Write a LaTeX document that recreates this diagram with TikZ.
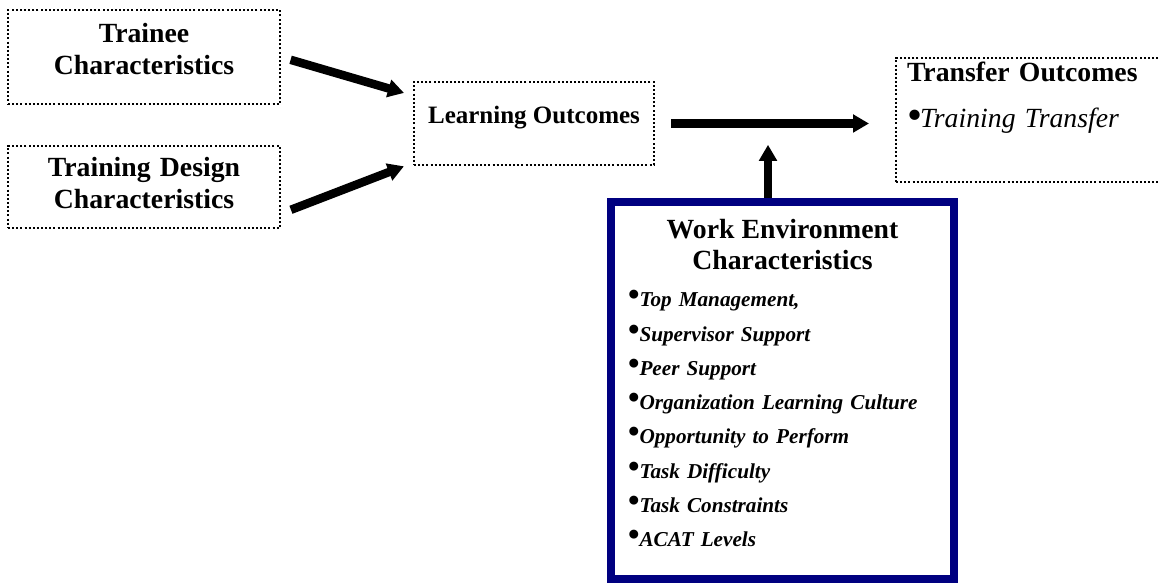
\documentclass[tikz,border=0pt]{standalone}
\usepackage{fontspec}
\usepackage{graphicx}
\setmainfont{Liberation Serif}
\usetikzlibrary{arrows.meta}

\definecolor{wenavy}{RGB}{0,0,128}
\newcommand{\headfont}{\fontsize{20.8pt}{23.6pt}\selectfont\bfseries\upshape}
\newcommand{\itemfont}{\fontsize{15.9pt}{25.7pt}\selectfont\bfseries\itshape}
\newcommand{\dotmark}[1]{\raisebox{#1}{\scalebox{1.55}{\upshape\textbullet}}}

\begin{document}
\begin{tikzpicture}[x=0.75pt, y=-0.75pt,
  dotbox/.style={draw, line width=1.5pt, dash pattern=on 1.5pt off 1.6pt, inner sep=0pt},
  bigarrow/.style={line width=6.4pt, -{Triangle[length=12pt, width=13pt]}}]
\useasboundingbox (0,0) rectangle (1159,584);
\node[dotbox, minimum width=204pt, minimum height=70.5pt, text width=187.5pt, align=center, font=\headfont, text height=13.5pt, text depth=34.5pt] (trainee) at (144,57) {Trainee\\Characteristics\par};
\node[dotbox, minimum width=204pt, minimum height=61.5pt, text width=187.5pt, align=center, font=\headfont, text height=13.5pt, text depth=28.5pt] (design) at (144,187) {Training Design\\Characteristics\par};
\node[dotbox, minimum width=180pt, minimum height=62.25pt, font=\fontsize{18.75pt}{22pt}\selectfont\bfseries, text height=13.5pt, text depth=12.75pt] (learning) at (534,123.5) {Learning Outcomes};
\node[dotbox, minimum width=213pt, minimum height=93pt, text width=196.5pt, align=left, font=\fontsize{20.8pt}{34.5pt}\selectfont, text height=13.5pt, text depth=70.5pt] (transfer) at (1038,120) {{\bfseries Transfer Outcomes}\\\dotmark{-1.5pt}\kern-1.5pt{\itshape Training Transfer}\par};
\node[draw=wenavy, line width=6pt, inner sep=0pt, minimum width=257.25pt, minimum height=282.75pt, text width=231.75pt, align=left, font=\itemfont, text height=13.5pt, text depth=240.75pt] (workenv) at (782.5,390.5) {\makebox[\hsize]{\headfont Work Environment}\\[-2.5pt]
\makebox[\hsize]{\headfont Characteristics}\\[2pt]
\dotmark{0.75pt}Top Management,\\
\dotmark{0.75pt}Supervisor Support\\
\dotmark{0.75pt}Peer Support\\
\dotmark{0.75pt}Organization Learning Culture\\
\dotmark{0.75pt}Opportunity to Perform\\
\dotmark{0.75pt}Task Difficulty\\
\dotmark{0.75pt}Task Constraints\\
\dotmark{0.75pt}ACAT Levels\par};
\coordinate (meet) at (768,123.5);
\draw[bigarrow, shorten <=7.5pt, shorten >=7pt] (trainee.east) -- (learning.167);
\draw[bigarrow, shorten <=8pt, shorten >=7.3pt] (design.349) -- (learning.198);
\draw[bigarrow, shorten <=12pt, shorten >=19.5pt] (learning.east) -- (learning.east -| transfer.west);
% moderator:
\draw[bigarrow, shorten >=16pt] (workenv.north -| meet) -- (meet);
\end{tikzpicture}
\end{document}
